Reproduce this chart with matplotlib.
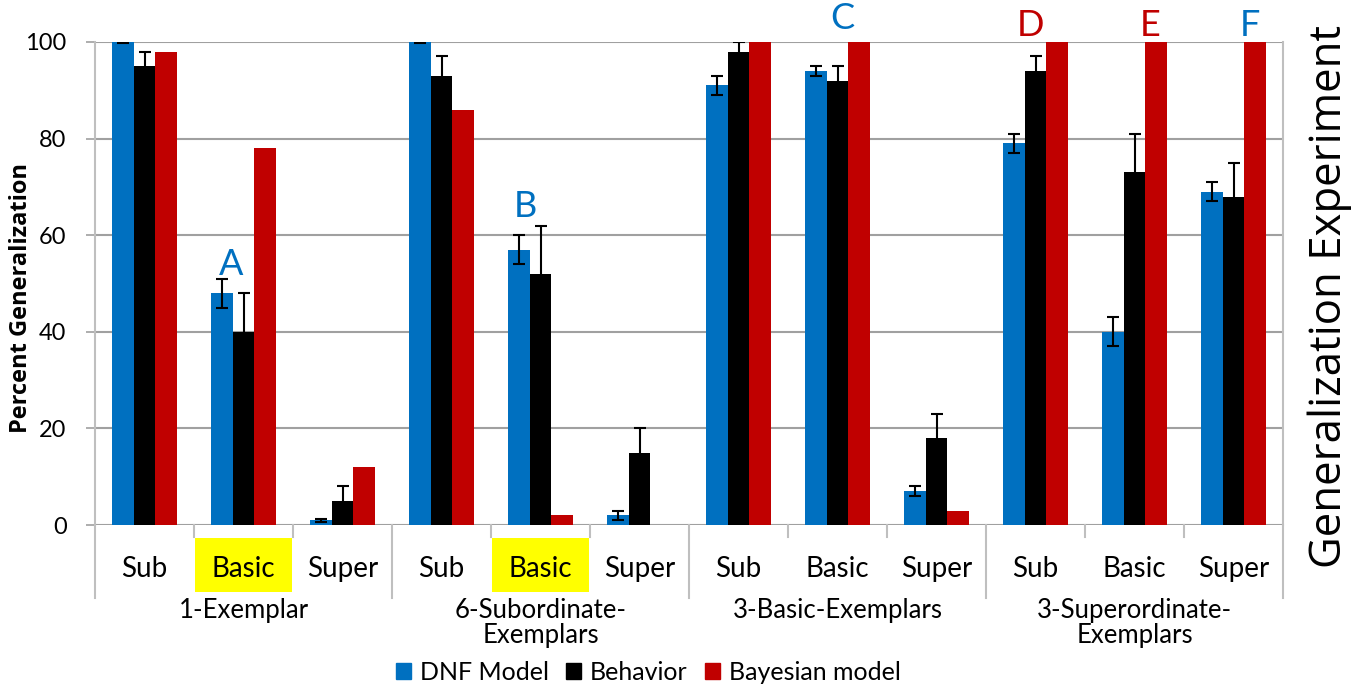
import matplotlib.pyplot as plt
from matplotlib.patches import Rectangle, Patch
import numpy as np

plt.rcParams['font.family'] = ['Lato', 'DejaVu Sans']

conditions = ['Sub', 'Basic', 'Super'] * 4
groups = ['1-Exemplar', '6-Subordinate-\nExemplars', '3-Basic-Exemplars', '3-Superordinate-\nExemplars']

dnf = [100, 48, 1, 100, 57, 2, 91, 94, 7, 79, 40, 69]
dnf_err = [0.3, 3, 0.3, 0.3, 3, 1, 2, 1, 1, 2, 3, 2]
behavior = [95, 40, 5, 93, 52, 15, 98, 92, 18, 94, 73, 68]
behavior_err = [3, 8, 3, 4, 10, 5, 2, 3, 5, 3, 8, 7]
bayes = [98, 78, 12, 86, 2, 0, 100, 100, 3, 100, 100, 100]

# letter annotations: (category index, x offset, y value, text, colour)
letters = [(1, -0.12, 54, 'A', '#0070C0'), (4, -0.15, 66, 'B', '#0070C0'),
           (7, 0.05, 104.8, 'C', '#0070C0'), (9, -0.05, 103.5, 'D', '#C00000'),
           (10, 0.16, 103.5, 'E', '#C00000'), (11, 0.17, 103.5, 'F', '#0070C0')]
highlighted = [1, 4]

blue, black, red = '#0070C0', '#000000', '#C00000'
grid_col = '#A0A0A0'

fig = plt.figure(figsize=(13.68, 6.92), dpi=100)
ax = fig.add_axes([95 / 1368, 1 - 525 / 692, (1283 - 95) / 1368, 483 / 692])

x = np.arange(len(conditions))
w = 0.218
ebar = dict(ecolor='black', elinewidth=1.5, capsize=4, capthick=1.5)
ax.bar(x - w, dnf, w, color=blue, yerr=dnf_err, error_kw=ebar, zorder=3)
ax.bar(x, behavior, w, color=black, yerr=behavior_err, error_kw=ebar, zorder=3)
ax.bar(x + w, bayes, w, color=red, zorder=3)

ax.set_xlim(-0.5, 11.5)
ax.set_ylim(0, 100)
ax.set_yticks(range(0, 101, 20))
ax.yaxis.grid(True, color=grid_col, linewidth=1.5, zorder=0)
ax.tick_params(axis='y', length=6.5, color=grid_col, width=1.2, labelsize=17, pad=14)
ax.set_ylabel('Percent Generalization', fontsize=17, fontweight='bold',
              family=['Open Sans', 'DejaVu Sans'])
ax.yaxis.set_label_coords(-0.052, 0.47)

for s in ['top', 'bottom']:
    ax.spines[s].set_visible(False)
for s in ['left', 'right']:
    ax.spines[s].set_color('#BFBFBF')
    ax.spines[s].set_linewidth(1.5)

# category labels under each cluster
ax.set_xticks(x)
ax.set_xticklabels(conditions, fontsize=20)
ax.tick_params(axis='x', length=0, pad=22)

tr = ax.get_xaxis_transform()
# short ticks between conditions, long lines between groups and at both ends
for b in range(13):
    bottom = -0.151 if b % 3 == 0 else -0.025
    ax.plot([b - 0.5, b - 0.5], [0, bottom], color='#BFBFBF', lw=1.5,
            transform=tr, clip_on=False)

for i in highlighted:
    ax.add_patch(Rectangle((i - 0.49, -0.139), 0.98, 0.112, transform=tr,
                           facecolor='#FFFF00', edgecolor='none',
                           clip_on=False, zorder=0))

for g, name in enumerate(groups):
    ax.text(3 * g + 1, -0.152, name, transform=tr, ha='center', va='top',
            fontsize=18.5, linespacing=1.0)

for i, dx, yv, t, c in letters:
    ax.text(i + dx, yv, t, ha='center', va='center', fontsize=26,
            color=c, clip_on=False)

handles = [Patch(color=blue, label='DNF Model'),
           Patch(color=black, label='Behavior'),
           Patch(color=red, label='Bayesian model')]
fig.legend(handles=handles, loc='center', bbox_to_anchor=(0.474, 0.028), ncol=3,
           frameon=False, fontsize=18, handlelength=0.6, handleheight=0.6,
           handletextpad=0.35, columnspacing=0.7)

fig.text(0.972, 0.571, 'Generalization Experiment', rotation=90, ha='center',
         va='center', fontsize=31.5, family=['Open Sans', 'DejaVu Sans'])

fig.savefig('out.png', dpi=100)
